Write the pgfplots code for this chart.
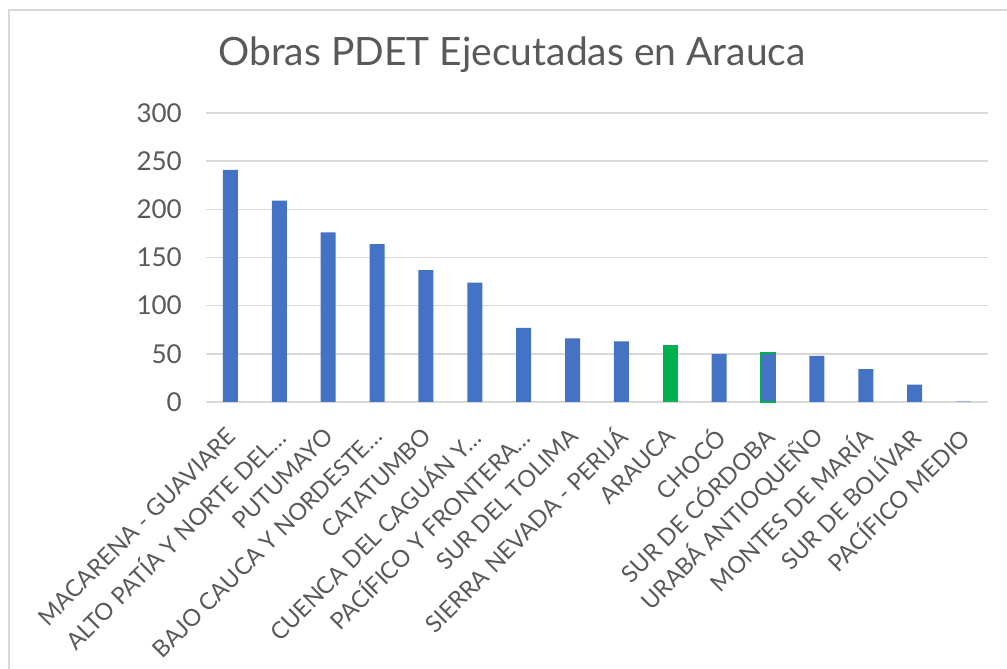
\documentclass[border=0pt]{standalone}
\usepackage{pgfplots}
\pgfplotsset{compat=1.18}
\usepackage{fontspec}
\setmainfont{Lato}
\definecolor{barblue}{HTML}{4472C4}
\definecolor{bargreen}{HTML}{00B050}
\definecolor{barfaint}{HTML}{9DB3E0}
\definecolor{gridgray}{HTML}{D9D9D9}
\definecolor{textgray}{HTML}{595959}
\begin{document}
\begin{tikzpicture}[x=1pt,y=1pt]
\path[use as bounding box] (0,0) rectangle (1007,669);
\draw[color=gridgray, line width=1.5pt] (9,0) -- (9,659) -- (1007,659);
\node[font=\fontsize{39}{46}\selectfont, text=textgray] at (512,614) {Obras PDET Ejecutadas en Arauca};
\begin{axis}[
  at={(206pt,267pt)}, anchor=south west, scale only axis,
  width=782pt, height=289pt,
  ymin=0, ymax=300, xmin=-0.5, xmax=15.5,
  axis line style={draw=none},
  ymajorgrids, grid style={gridgray, line width=1.5pt},
  ytick={0,50,...,300}, major tick length=0,
  xtick={0,...,15},
  xticklabels={MACARENA - GUAVIARE, ALTO PATÍA Y NORTE DEL…, PUTUMAYO, BAJO CAUCA Y NORDESTE…, CATATUMBO, CUENCA DEL CAGUÁN Y…, PACÍFICO Y FRONTERA…, SUR DEL TOLIMA, SIERRA NEVADA - PERIJÁ, ARAUCA, CHOCÓ, SUR DE CÓRDOBA, URABÁ ANTIOQUEÑO, MONTES DE MARÍA, SUR DE BOLÍVAR, PACÍFICO MEDIO},
  xticklabel style={xshift=1pt, yshift=-30pt, rotate=45, anchor=east, inner sep=0pt, font=\fontsize{23.5}{28}\selectfont, text=textgray},
  yticklabel style={anchor=east, inner sep=0pt, xshift=-24pt, font=\fontsize{26}{30}\selectfont, text=textgray},
  /pgf/number format/assume math mode=true,
  ybar, bar width=15pt, bar shift=0pt,
  clip=false,
]
\addplot[fill=barblue, draw=none] coordinates {(0,241) (1,209) (2,176) (3,164) (4,137) (5,124) (6,77) (7,66) (8,63) (10,50) (12,48) (13,34) (14,18)};
\addplot[fill=bargreen, draw=none] coordinates {(9,59)};
\addplot[fill=barblue, draw=bargreen, line width=1.5pt] coordinates {(11,51)};
\addplot[fill=barfaint, draw=none] coordinates {(15,1.5)};
\end{axis}
\end{tikzpicture}
\end{document}
